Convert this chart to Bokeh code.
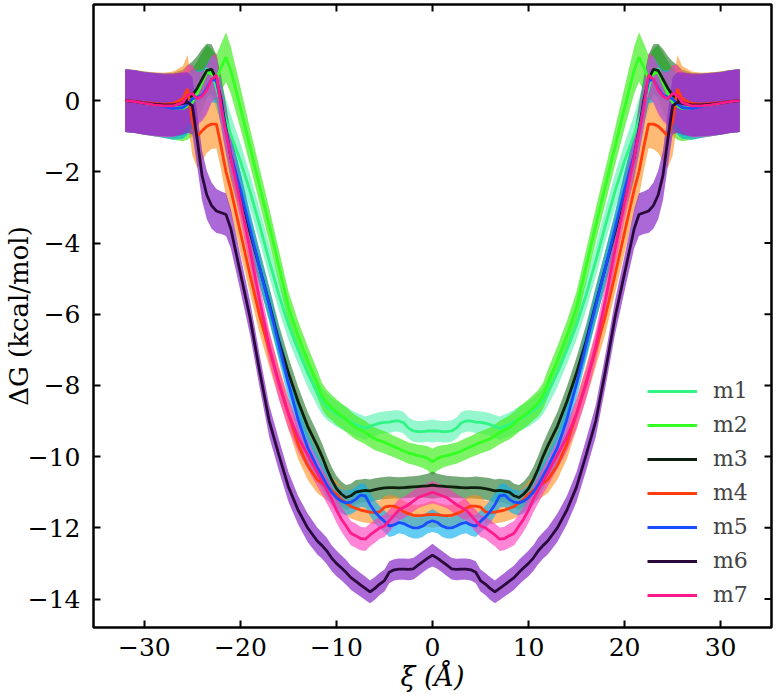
import math

from bokeh.plotting import figure
from bokeh.models import Range1d, FixedTicker, Legend, LegendItem
from bokeh.embed import file_html
from bokeh.resources import INLINE

# Reaction coordinate (Å), left half; the profiles are symmetric about ξ = 0
XI_HALF = [-32, -31, -30, -29, -28, -27, -26,
           -25.5, -25, -24.5, -24, -23.5, -23, -22.5, -22, -21.5, -21,
           -20, -19, -18, -17, -16, -15, -14, -13,
           -12, -11.5, -11, -10.5, -10, -9.5, -9, -8.5, -8, -7.5, -7, -6.5, -6,
           -5.5, -5, -4.5, -4, -3.5, -3, -2.5, -2, -1.5, -1, -0.5, 0]

# Free-energy profiles ΔG (kcal/mol), left half
M1 = [0, -0.03, -0.08, -0.12, -0.15, -0.2, -0.2,
      -0.1, 0.1, 0.35, 0.6, 0.9, 0.8, 0.35, -0.1, -0.55, -0.95,
      -1.7, -2.55, -3.5, -4.5, -5.45, -6.3, -7.0, -7.65,
      -8.2, -8.45, -8.6, -8.7, -8.8, -8.88, -8.95, -9.02, -9.1, -9.15, -9.2, -9.15, -9.1,
      -9.06, -9.04, -9.03, -9.0, -9.0, -9.05, -9.2, -9.28, -9.3, -9.3, -9.28, -9.28]
M2 = [0, -0.03, -0.08, -0.12, -0.16, -0.2, -0.22,
      -0.15, -0.05, 0.2, 0.5, 0.8, 0.75, 0.6, 0.95, 1.22, 0.85,
      -0.2, -1.3, -2.4, -3.5, -4.65, -5.8, -6.6, -7.3,
      -7.95, -8.3, -8.5, -8.62, -8.75, -8.85, -8.95, -9.08, -9.18, -9.25, -9.32, -9.42, -9.5,
      -9.55, -9.6, -9.66, -9.72, -9.78, -9.84, -9.9, -9.93, -9.97, -10.0, -10.05, -10.15]
M3 = [0, -0.02, -0.06, -0.1, -0.12, -0.12, -0.05,
      0.05, 0.15, 0.35, 0.6, 0.85, 0.88, 0.6, 0.0, -0.8, -1.6,
      -2.6, -3.7, -4.7, -5.7, -6.75, -7.65, -8.45, -9.15,
      -9.7, -10.0, -10.35, -10.65, -10.9, -11.05, -11.15, -11.1, -11.0, -10.97, -10.95, -10.96, -10.93,
      -10.9, -10.88, -10.87, -10.87, -10.88, -10.87, -10.86, -10.85, -10.84, -10.83, -10.82, -10.8]
M4 = [0, -0.02, -0.06, -0.08, -0.1, -0.08, 0.05,
      0.33, -0.6, -1.0, -0.85, -0.72, -0.66, -0.66, -1.3, -2.0, -2.5,
      -3.7, -4.9, -6.05, -7.0, -7.9, -8.8, -9.65, -10.25,
      -10.65, -10.75, -10.85, -10.95, -11.05, -11.2, -11.3, -11.4, -11.45, -11.5, -11.53, -11.56, -11.57,
      -11.55, -11.42, -11.39, -11.39, -11.45, -11.55, -11.6, -11.65, -11.66, -11.65, -11.63, -11.62]
M5 = [0, -0.03, -0.08, -0.12, -0.17, -0.22, -0.2,
      -0.1, 0.05, 0.1, 0.15, 0.35, 0.6, 0.55, -0.1, -0.85, -1.5,
      -2.5, -3.6, -4.7, -5.75, -6.85, -7.95, -8.95, -9.75,
      -10.3, -10.55, -10.8, -11.0, -11.15, -11.25, -11.3, -11.28, -11.2, -11.08, -11.1, -11.35, -11.55,
      -11.7, -11.82, -11.95, -11.92, -11.85, -11.88, -11.95, -12.0, -12.0, -11.95, -11.85, -11.8]
M6 = [0, -0.03, -0.08, -0.1, -0.12, -0.12, -0.08,
      -0.05, -0.15, -1.1, -2.1, -2.65, -2.95, -3.1, -3.15, -3.2, -3.6,
      -4.85, -6.1, -7.6, -9.0, -9.95, -10.85, -11.5, -12.0,
      -12.37, -12.5, -12.65, -12.85, -13.0, -13.12, -13.25, -13.4, -13.5, -13.6, -13.7, -13.8, -13.7,
      -13.58, -13.48, -13.25, -13.18, -13.16, -13.16, -13.17, -13.15, -13.05, -12.95, -12.85, -12.77]
M7 = [0, -0.03, -0.08, -0.12, -0.15, -0.15, -0.05,
      0.15, 0.2, 0.05, 0.12, 0.3, 0.6, 0.72, -0.2, -0.9, -1.6,
      -2.85, -4.2, -5.6, -6.9, -7.95, -8.8, -9.45, -9.95,
      -10.45, -10.7, -10.95, -11.2, -11.5, -11.75, -11.95, -12.15, -12.22, -12.3, -12.32, -12.2, -12.1,
      -12.0, -11.95, -11.8, -11.65, -11.5, -11.43, -11.35, -11.25, -11.15, -11.1, -11.05, -11.0]

# Statistical uncertainty (kcal/mol), left half
ERR_A = [0.88, 0.88, 0.88, 0.88, 0.88, 0.88, 0.87,
         0.85, 0.8, 0.75, 0.7, 0.68, 0.65, 0.62, 0.6, 0.6, 0.55,
         0.5, 0.48, 0.46, 0.45, 0.44, 0.42, 0.4, 0.4,
         0.38, 0.37, 0.37, 0.36, 0.36, 0.35, 0.35, 0.34, 0.34, 0.33, 0.33, 0.32, 0.32,
         0.31, 0.31, 0.31, 0.3, 0.3, 0.3, 0.3, 0.3, 0.3, 0.3, 0.3, 0.32]
ERR_B = [0.88, 0.88, 0.88, 0.88, 0.88, 0.9, 0.92,
         0.95, 0.95, 0.9, 0.85, 0.75, 0.7, 0.68, 0.66, 0.7, 0.66,
         0.58, 0.52, 0.5, 0.48, 0.46, 0.44, 0.42, 0.4,
         0.38, 0.37, 0.37, 0.36, 0.36, 0.35, 0.35, 0.34, 0.34, 0.33, 0.33, 0.32, 0.32,
         0.31, 0.31, 0.31, 0.3, 0.3, 0.3, 0.3, 0.3, 0.3, 0.32, 0.34, 0.38]

SERIES = ["m1", "m2", "m3", "m4", "m5", "m6", "m7"]
VALUES = [M1, M2, M3, M4, M5, M6, M7]
ERRORS = [ERR_A, ERR_B, ERR_B, ERR_B, ERR_A, ERR_A, ERR_A]
LINE_COLORS = ["#30F585", "#33FF22", "#0D1F0D", "#FF3D0D", "#1A4DFF", "#2A0A3C", "#FF1A8C"]
BAND_COLORS = ["#3FF0A8", "#44EE22", "#2E7D32", "#FF8C1A", "#10B0EE", "#8B2FC9", "#FF33BB"]
BAND_ALPHAS = [0.55, 0.7, 0.65, 0.6, 0.65, 0.72, 0.6]
# shaded bands are layered with m6 on top
BAND_ORDER = [0, 1, 2, 3, 4, 6, 5]

X_TICKS = [-30, -20, -10, 0, 10, 20, 30]
Y_TICKS = [0, -2, -4, -6, -8, -10, -12, -14]
X_LIM = (-35.3, 35.3)
Y_LIM = (-14.8, 2.7)


def full_x(half):
    return list(half) + [-v for v in half[-2::-1]]


def full_y(half):
    return list(half) + list(half[-2::-1])


def minus(v):
    return str(v).replace("-", "\u2212")


FONT = "DejaVu Serif"

p = figure(width=776, height=695, output_backend="svg", toolbar_location=None,
           x_range=Range1d(*X_LIM), y_range=Range1d(*Y_LIM),
           min_border_left=93, min_border_right=5, min_border_top=4, min_border_bottom=68)
p.background_fill_color = "white"
p.border_fill_color = "white"
p.grid.visible = False
p.outline_line_color = "black"
p.outline_line_width = 2.5
p.outline_line_alpha = 1.0

xi = full_x(XI_HALF)
for i in BAND_ORDER:
    y = full_y(VALUES[i])
    e = full_y(ERRORS[i])
    lo = [a - b for a, b in zip(y, e)]
    hi = [a + b for a, b in zip(y, e)]
    p.varea(x=xi, y1=lo, y2=hi, fill_color=BAND_COLORS[i], fill_alpha=BAND_ALPHAS[i])

line_renderers = []
for vals, lc in zip(VALUES, LINE_COLORS):
    r = p.line(x=xi, y=full_y(vals), line_color=lc, line_width=2.8)
    line_renderers.append(r)

# inward ticks mirrored on the top and right frame edges
p.ray(x=X_TICKS, y=[Y_LIM[1]] * len(X_TICKS), length=7, length_units="screen",
      angle=-math.pi / 2, line_color="black", line_width=2)
p.ray(x=[X_LIM[1]] * len(Y_TICKS), y=Y_TICKS, length=7, length_units="screen",
      angle=math.pi, line_color="black", line_width=2)

for ax in (p.xaxis[0], p.yaxis[0]):
    ax.axis_line_color = None
    ax.major_tick_in = 7
    ax.major_tick_out = 0
    ax.major_tick_line_width = 2
    ax.minor_tick_line_color = None
    ax.major_label_text_font = FONT
    ax.major_label_text_font_size = "25px"
    ax.major_label_text_color = "black"
    ax.axis_label_text_font = FONT
    ax.axis_label_text_font_size = "26px"
    ax.axis_label_text_color = "black"

p.xaxis[0].ticker = FixedTicker(ticks=X_TICKS)
p.xaxis[0].major_label_overrides = {t: minus(t) for t in X_TICKS}
p.xaxis[0].axis_label = "\u03be (\u00c5)"
p.xaxis[0].axis_label_text_font_style = "italic"
p.xaxis[0].axis_label_text_font_size = "27px"
p.xaxis[0].major_label_standoff = 10
p.xaxis[0].axis_label_standoff = 2

p.yaxis[0].ticker = FixedTicker(ticks=Y_TICKS)
p.yaxis[0].major_label_overrides = {t: minus(t) for t in Y_TICKS}
p.yaxis[0].axis_label = "\u0394G (kcal/mol)"
p.yaxis[0].axis_label_text_font_style = "normal"
p.yaxis[0].major_label_standoff = 13
p.yaxis[0].axis_label_standoff = -9

legend = Legend(items=[LegendItem(label=s, renderers=[r]) for s, r in zip(SERIES, line_renderers)],
                location=(554, 20), label_text_font=FONT, label_text_font_size="22px",
                glyph_width=50, glyph_height=20, label_standoff=16, spacing=9,
                padding=0, margin=0, border_line_color=None, background_fill_alpha=0)
p.add_layout(legend)

open("out.html", "w").write(file_html(p, INLINE))
